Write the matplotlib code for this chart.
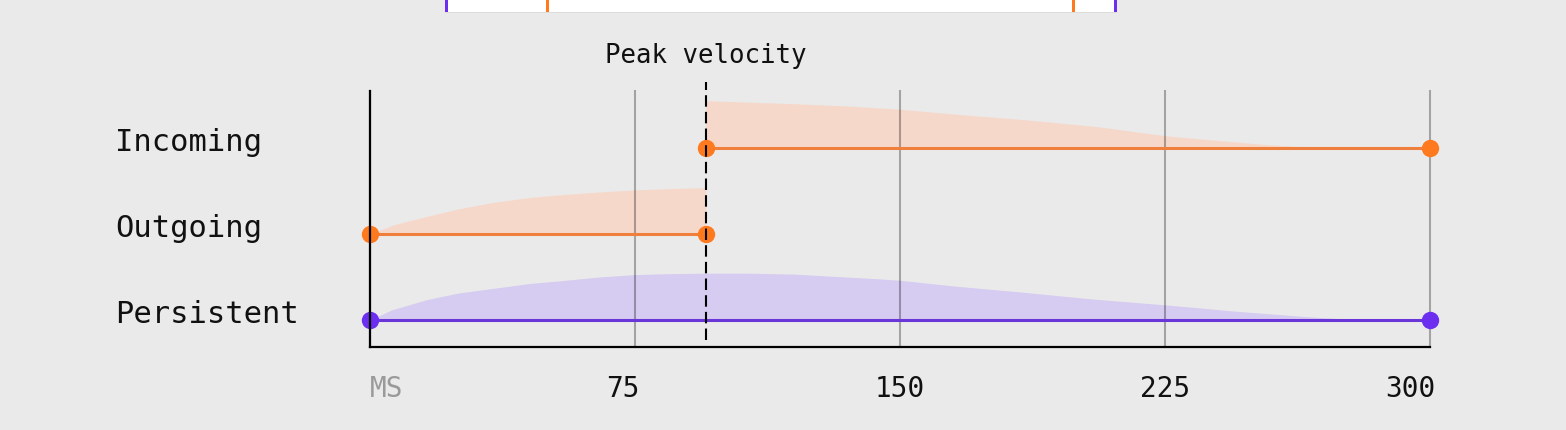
import matplotlib
matplotlib.use('Agg')
import matplotlib.pyplot as plt
from matplotlib.patches import Rectangle
from matplotlib.transforms import ScaledTranslation

# rows, bottom to top
rows = ['Persistent', 'Outgoing', 'Incoming']

# time span of each transition (ms)
persistent_span = [0, 300]
outgoing_span = [0, 95]
incoming_span = [95, 300]
peak_ms = 95

# velocity profiles (relative, peak ~ 1)
persistent_t = [0, 6, 16, 25, 35, 45, 54, 65, 75, 85, 95, 107, 120, 132, 144, 150,
                165, 183, 205, 225, 246, 267, 278, 300]
persistent_v = [0, 0.21, 0.43, 0.57, 0.67, 0.77, 0.83, 0.91, 0.96, 0.98, 0.99, 0.99, 0.97, 0.92,
                0.87, 0.84, 0.72, 0.60, 0.44, 0.32, 0.18, 0.06, 0.015, 0]
outgoing_t = [0, 6.5, 16, 25, 35, 45, 54, 65, 74.5, 85, 95]
outgoing_v = [0, 0.19, 0.37, 0.53, 0.67, 0.77, 0.83, 0.89, 0.93, 0.96, 0.98]
incoming_t = [95, 107, 119, 135, 150, 165, 185, 195, 206, 225, 240, 254, 268, 300]
incoming_v = [1.0, 0.97, 0.94, 0.89, 0.82, 0.72, 0.60, 0.53, 0.45, 0.26, 0.16, 0.07, 0.01, 0]

ticks = [0, 75, 150, 225, 300]
tick_labels = ['MS', '75', '150', '225', '300']

bg = '#eaeaea'
orange_dot = '#ff7a1f'
orange_line = '#ef7f3d'
orange_fill = '#f6d8ca'
purple_dot = '#6c2fef'
purple_line = '#6a36d8'
purple_fill = '#d6cbf0'
amp = 0.55
mono = 'DejaVu Sans Mono'

fig = plt.figure(figsize=(15.66, 4.3), dpi=100, facecolor=bg)
ax = fig.add_axes([370 / 1566, 83 / 430, 1060 / 1566, 256 / 430])
ax.set_facecolor(bg)
ax.set_xlim(0, 300)
ax.set_ylim(-0.314, 2.663)

# velocity areas
ax.fill_between(persistent_t, 0, [v * amp for v in persistent_v], color=purple_fill, lw=0, zorder=1)
ax.fill_between(outgoing_t, 1, [1 + v * amp for v in outgoing_v], color=orange_fill, lw=0, zorder=1)
ax.fill_between(incoming_t, 2, [2 + v * amp for v in incoming_v], color=orange_fill, lw=0, zorder=1)

# timelines with end dots
ax.plot(persistent_span, [0, 0], color=purple_line, lw=2.2, zorder=3)
ax.plot(persistent_span, [0, 0], 'o', color=purple_dot, ms=11.5, zorder=4, clip_on=False)
ax.plot(outgoing_span, [1, 1], color=orange_line, lw=2.2, zorder=3)
ax.plot(outgoing_span, [1, 1], 'o', color=orange_dot, ms=11.5, zorder=4, clip_on=False)
ax.plot(incoming_span, [2, 2], color=orange_line, lw=2.2, zorder=3)
ax.plot(incoming_span, [2, 2], 'o', color=orange_dot, ms=11.5, zorder=4, clip_on=False)

# peak velocity marker
ax.plot([peak_ms, peak_ms], [-0.23, 2.77], color='black', lw=1.5, ls=(0, (5.5, 2.5)),
        zorder=5, clip_on=False)
ax.text(peak_ms, 2.99, 'Peak velocity', ha='center', va='baseline',
        fontsize=18.5, family=mono, color='#111111')

# grid + axes
ax.set_xticks(ticks)
ax.set_xticklabels(tick_labels)
ax.grid(axis='x', color='black', alpha=0.3, lw=1.5)
ax.grid(axis='y', visible=False)
ax.set_axisbelow(False)
for gl in ax.get_xgridlines():
    gl.set_clip_on(False)
for s in ['top', 'right']:
    ax.spines[s].set_visible(False)
for s in ['left', 'bottom']:
    ax.spines[s].set_color('black')
    ax.spines[s].set_linewidth(1.6)
    ax.spines[s].set_zorder(6)
ax.tick_params(axis='x', length=0, pad=20, labelsize=20, labelcolor='#111111')
for lab in ax.get_xticklabels():
    lab.set_family(mono)
labs = ax.get_xticklabels()
labs[0].set_ha('left')
labs[0].set_color('#9a9a9a')
labs[-1].set_ha('right')
labs[-1].set_transform(labs[-1].get_transform() + ScaledTranslation(5 / 100, 0, fig.dpi_scale_trans))
labs[1].set_transform(labs[1].get_transform() + ScaledTranslation(-12 / 100, 0, fig.dpi_scale_trans))

ax.set_yticks([0, 1, 2])
ax.set_yticklabels(rows)
ax.tick_params(axis='y', length=0, pad=183.6, labelsize=22, labelcolor='#111111')
for lab in ax.get_yticklabels():
    lab.set_family(mono)
    lab.set_ha('left')
    lab.set_va('baseline')
    lab.set_transform(lab.get_transform() + ScaledTranslation(0, -3 / 100, fig.dpi_scale_trans))

# cut-off panel from above
W, H = 1566, 430
fig.add_artist(Rectangle((445 / W, 1 - 13 / H), 672 / W, 14 / H, transform=fig.transFigure,
                         facecolor='#dcdcdc', lw=0))
fig.add_artist(Rectangle((445 / W, 1 - 12 / H), 672 / W, 12 / H, transform=fig.transFigure,
                         facecolor='white', lw=0))
for x0, c in [(445, purple_dot), (1114, purple_dot), (546, orange_dot), (1072, orange_dot)]:
    fig.add_artist(Rectangle((x0 / W, 1 - 12 / H), 3 / W, 12 / H, transform=fig.transFigure,
                             facecolor=c, lw=0))

fig.savefig('out.png', dpi=100, facecolor=bg)
